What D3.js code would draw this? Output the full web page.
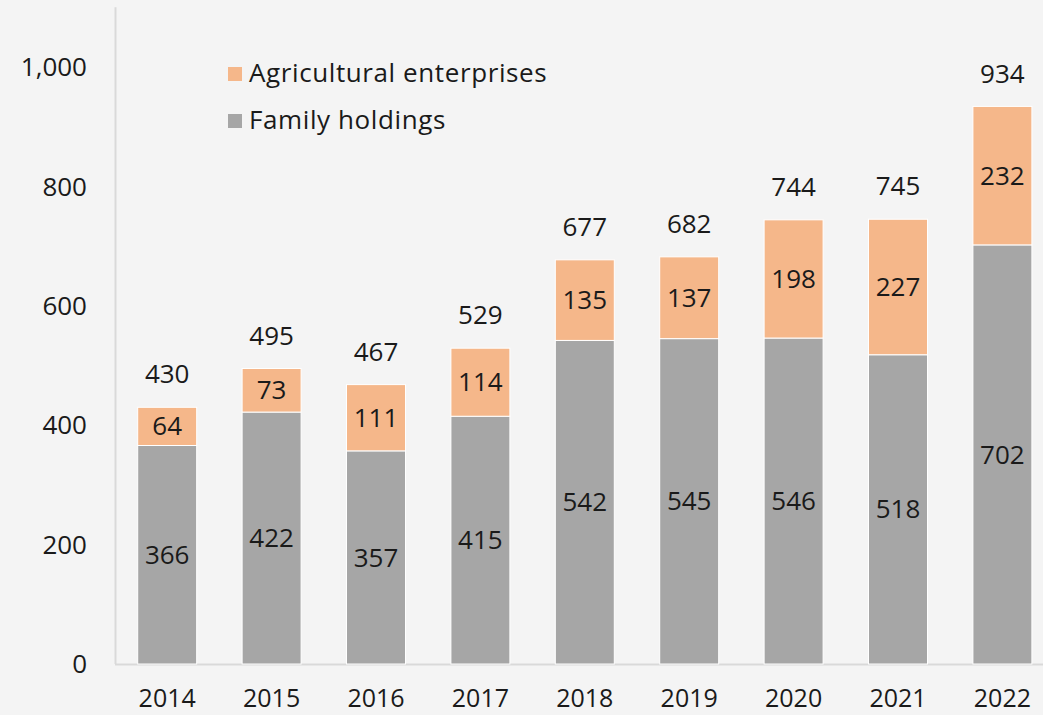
<!DOCTYPE html>
<html><head><meta charset="utf-8">
<script src="https://cdn.jsdelivr.net/npm/d3@7"></script>
<style>
html,body{margin:0;padding:0;background:#f4f4f4;}
svg{display:block;font-family:"Open Sans",Lato,sans-serif;}
</style></head>
<body><svg id="c" width="1043" height="715"></svg>
<script>
const years = ["2014","2015","2016","2017","2018","2019","2020","2021","2022"];
const family = [366,422,357,415,542,545,546,518,702];
const agri = [64,73,111,114,135,137,198,227,232];
const totals = [430,495,467,529,677,682,744,745,934];
const yTicks = [0,200,400,600,800,1000];
const seriesNames = ["Agricultural enterprises","Family holdings"];
const colors = {agri:"#f5b78a", family:"#a6a6a6"};

const svg = d3.select("#c");
svg.append("rect").attr("width",1043).attr("height",715).attr("fill","#f4f4f4");

const x = d3.scaleBand().domain(years).range([115, 1054.6]).paddingInner(0.435).paddingOuter(0.2175);
const y = d3.scaleLinear().domain([0,1100]).range([664, 7.3]);

const fmt = d3.format(",");
const txt = "#1a1a1a";
const fs = 26;

svg.append("line").attr("x1",115.5).attr("x2",115.5).attr("y1",y(1100)).attr("y2",y(0)).attr("stroke","#d9d9d9").attr("stroke-width",2);
svg.append("line").attr("x1",115).attr("x2",1043).attr("y1",y(0)+0.5).attr("y2",y(0)+0.5).attr("stroke","#d9d9d9").attr("stroke-width",2);

svg.append("g").selectAll("text").data(yTicks).join("text")
  .attr("x",87).attr("y",d=>y(d)).attr("dy","0.35em").attr("text-anchor","end")
  .attr("font-size",fs).attr("fill",txt).text(d=>fmt(d));

svg.append("g").selectAll("text").data(years).join("text")
  .attr("x",d=>x(d)+x.bandwidth()/2).attr("y",707).attr("text-anchor","middle")
  .attr("font-size",25).attr("fill",txt).text(d=>d);

const data = years.map((yr,i)=>({yr, f:family[i], a:agri[i], t:totals[i]}));
const g = svg.append("g");
g.selectAll("rect.f").data(data).join("rect").attr("class","f")
  .attr("x",d=>x(d.yr)).attr("width",x.bandwidth())
  .attr("y",d=>y(d.f)).attr("height",d=>y(0)-y(d.f))
  .attr("fill",colors.family).attr("stroke","#ffffff").attr("stroke-width",1);
g.selectAll("rect.a").data(data).join("rect").attr("class","a")
  .attr("x",d=>x(d.yr)).attr("width",x.bandwidth())
  .attr("y",d=>y(d.f+d.a)).attr("height",d=>y(d.f)-y(d.f+d.a))
  .attr("fill",colors.agri).attr("stroke","#ffffff").attr("stroke-width",1);

const cx = d=>x(d.yr)+x.bandwidth()/2;
g.selectAll("text.fl").data(data).join("text").attr("class","fl")
  .attr("x",cx).attr("y",d=>y(d.f/2)).attr("dy","0.35em").attr("text-anchor","middle")
  .attr("font-size",fs).attr("fill",txt).text(d=>d.f);
g.selectAll("text.al").data(data).join("text").attr("class","al")
  .attr("x",cx).attr("y",d=>y(d.f+d.a/2)).attr("dy","0.35em").attr("text-anchor","middle")
  .attr("font-size",fs).attr("fill",txt).text(d=>d.a);
g.selectAll("text.tl").data(data).join("text").attr("class","tl")
  .attr("x",cx).attr("y",d=>y(d.f+d.a)-33).attr("dy","0.35em").attr("text-anchor","middle")
  .attr("font-size",fs).attr("fill",txt).text(d=>d.t);

const leg = svg.append("g");
const legItems = [{n:seriesNames[0],c:colors.agri,y:73},{n:seriesNames[1],c:colors.family,y:120}];
leg.selectAll("rect").data(legItems).join("rect")
  .attr("x",228).attr("y",d=>d.y-6).attr("width",14).attr("height",14).attr("fill",d=>d.c);
leg.selectAll("text").data(legItems).join("text")
  .attr("x",249).attr("y",d=>d.y).attr("dy","0.35em").attr("letter-spacing",0.6)
  .attr("font-size",fs).attr("fill",txt).text(d=>d.n);
</script></body></html>
